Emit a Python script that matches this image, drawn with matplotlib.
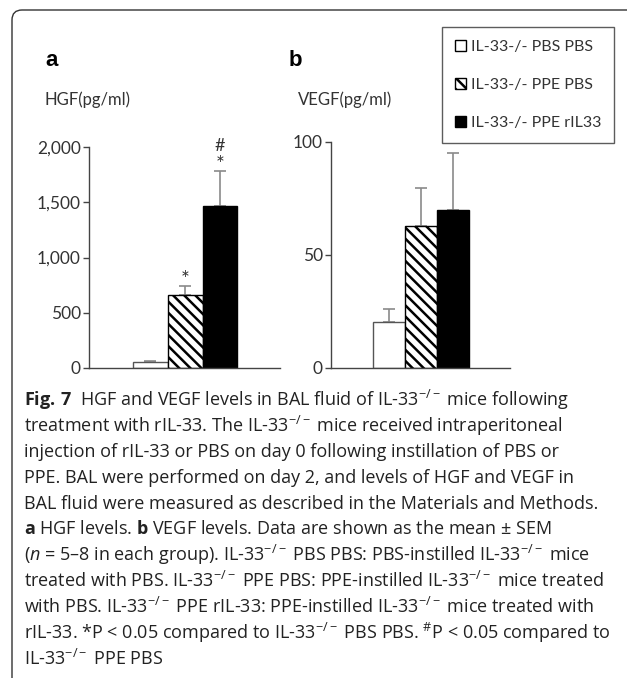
import matplotlib
matplotlib.use("Agg")
import matplotlib.pyplot as plt
from matplotlib.patches import FancyBboxPatch, Patch

# ---------------- data ----------------
groups = ["IL-33-/- PBS PBS", "IL-33-/- PPE PBS", "IL-33-/- PPE rIL33"]
hgf = [57, 658, 1466]
hgf_sem = [6, 87, 320]
vegf = [20.5, 62.8, 69.9]
vegf_sem = [5.4, 16.9, 25.2]
hgf_ticks = [0, 500, 1000, 1500, 2000]
hgf_ticklabels = ["0", "500", "1,000", "1,500", "2,000"]
vegf_ticks = [0, 50, 100]
vegf_ticklabels = ["0", "50", "100"]
hgf_sig = ["", "*", "*"]
hgf_sig2 = ["", "", "#"]

caption_lines = [
    r"$\mathbf{Fig.\,7}$  HGF and VEGF levels in BAL fluid of IL-33$^{-/-}$ mice following",
    r"treatment with rIL-33. The IL-33$^{-/-}$ mice received intraperitoneal",
    r"injection of rIL-33 or PBS on day 0 following instillation of PBS or",
    r"PPE. BAL were performed on day 2, and levels of HGF and VEGF in",
    r"BAL fluid were measured as described in the Materials and Methods.",
    r"$\mathbf{a}$ HGF levels. $\mathbf{b}$ VEGF levels. Data are shown as the mean ± SEM",
    r"($n$ = 5–8 in each group). IL-33$^{-/-}$ PBS PBS: PBS-instilled IL-33$^{-/-}$ mice",
    r"treated with PBS. IL-33$^{-/-}$ PPE PBS: PPE-instilled IL-33$^{-/-}$ mice treated",
    r"with PBS. IL-33$^{-/-}$ PPE rIL-33: PPE-instilled IL-33$^{-/-}$ mice treated with",
    r"rIL-33. *P < 0.05 compared to IL-33$^{-/-}$ PBS PBS. $^{\#}$P < 0.05 compared to",
    r"IL-33$^{-/-}$ PPE PBS",
]

# ---------------- style ----------------
FONT = "Lato"
CAP_FONT = "Open Sans"
plt.rcParams["font.family"] = [FONT, "DejaVu Sans"]
plt.rcParams["mathtext.fontset"] = "custom"
plt.rcParams["mathtext.rm"] = CAP_FONT
plt.rcParams["mathtext.it"] = CAP_FONT + ":italic"
plt.rcParams["mathtext.bf"] = CAP_FONT + ":bold"
plt.rcParams["hatch.linewidth"] = 1.8

W, H = 627, 678
fig = plt.figure(figsize=(W / 100, H / 100), dpi=100)

# rounded frame (top + left only visible)
frame = FancyBboxPatch((0.12, -1.0), 8.0, 6.68 + 1.0,
                       boxstyle="round,pad=0,rounding_size=0.1",
                       transform=fig.dpi_scale_trans, fill=False,
                       edgecolor="#333333", linewidth=1.0)
fig.patches.append(frame)

faces = ["white", "white", "black"]
hatches = [None, "\\\\\\", None]
edges = ["#555555", "black", "black"]
spine_col = "#444444"
err_col = "#8a8a8a"


def style_axes(ax):
    for s in ["top", "right"]:
        ax.spines[s].set_visible(False)
    for s in ["left", "bottom"]:
        ax.spines[s].set_color(spine_col)
        ax.spines[s].set_linewidth(1.0)
    ax.tick_params(axis="y", direction="out", length=4, width=1.0,
                   color=spine_col, labelsize=12.5, labelcolor="#333333", pad=2)
    ax.tick_params(axis="x", length=0, labelbottom=False)


def draw_bars(ax, vals, sems):
    for i, (v, e) in enumerate(zip(vals, sems)):
        ax.bar(i, v, width=1.0, color=faces[i], edgecolor=edges[i],
               hatch=hatches[i], linewidth=1.0, zorder=2, label=groups[i])
        ax.errorbar(i, v, yerr=[[0], [e]], fmt="none", ecolor=err_col,
                    elinewidth=1.2, capsize=4, capthick=1.2, zorder=1)


# panel a
axa = fig.add_axes([89 / W, 1 - 368 / H, 191 / W, 221 / H])
draw_bars(axa, hgf, hgf_sem)
axa.set_xlim(-1.77, 3.73)
axa.set_ylim(0, 2000)
axa.set_yticks(hgf_ticks)
axa.set_yticklabels(hgf_ticklabels)
style_axes(axa)
for i in range(3):
    top = hgf[i] + hgf_sem[i]
    if hgf_sig[i]:
        axa.annotate(hgf_sig[i], xy=(i, top), xytext=(0, -3), textcoords="offset points",
                     ha="center", va="bottom", fontsize=15, color="#333333")
    if hgf_sig2[i]:
        axa.annotate(hgf_sig2[i], xy=(i, top), xytext=(0, 12), textcoords="offset points",
                     ha="center", va="bottom", fontsize=13, color="#333333")

# panel b
axb = fig.add_axes([331 / W, 1 - 368 / H, 179 / W, 226.3 / H])
draw_bars(axb, vegf, vegf_sem)
axb.set_xlim(-1.81, 3.78)
axb.set_ylim(0, 100)
axb.set_yticks(vegf_ticks)
axb.set_yticklabels(vegf_ticklabels)
style_axes(axb)

# panel letters and units
fig.text(45 / W, 1 - 60 / H, "a", fontsize=16, fontweight="bold",
         family=["Liberation Sans", "DejaVu Sans"], va="center", ha="left")
fig.text(289 / W, 1 - 60 / H, "b", fontsize=16, fontweight="bold",
         family=["Liberation Sans", "DejaVu Sans"], va="center", ha="left")
fig.text(44 / W, 1 - 100 / H, "HGF(pg/ml)", fontsize=12, color="#333333",
         va="center", ha="left")
fig.text(298 / W, 1 - 100 / H, "VEGF(pg/ml)", fontsize=12, color="#333333",
         va="center", ha="left")

# legend
handles = [Patch(facecolor=faces[i], edgecolor="black", hatch=hatches[i],
                 linewidth=1.0) for i in range(3)]
leg = fig.legend(handles, groups, loc="upper left",
                 bbox_to_anchor=(442 / W, 1 - 27 / H), fontsize=11.5,
                 frameon=True, fancybox=False, edgecolor="#333333",
                 handlelength=0.7, handleheight=0.7, handletextpad=0.3,
                 labelspacing=1.5, borderpad=0.8, borderaxespad=0)
leg.get_frame().set_linewidth(1.0)
for t in leg.get_texts():
    t.set_color("#333333")

# caption (font size fitted so the longest line spans the caption width)
y0 = 400
dy = 25.9
cap_texts = []
for k, line in enumerate(caption_lines):
    cap_texts.append(fig.text(24 / W, 1 - (y0 + k * dy) / H, line, fontsize=11,
                              family=[CAP_FONT, "DejaVu Sans"],
                              color="#222222", va="center", ha="left"))
renderer = fig.canvas.get_renderer()
widest = max(t.get_window_extent(renderer).width for t in cap_texts)
target = 588.0
new_size = 11 * target / widest
for t in cap_texts:
    t.set_fontsize(new_size)

fig.savefig("out.png", dpi=100)
